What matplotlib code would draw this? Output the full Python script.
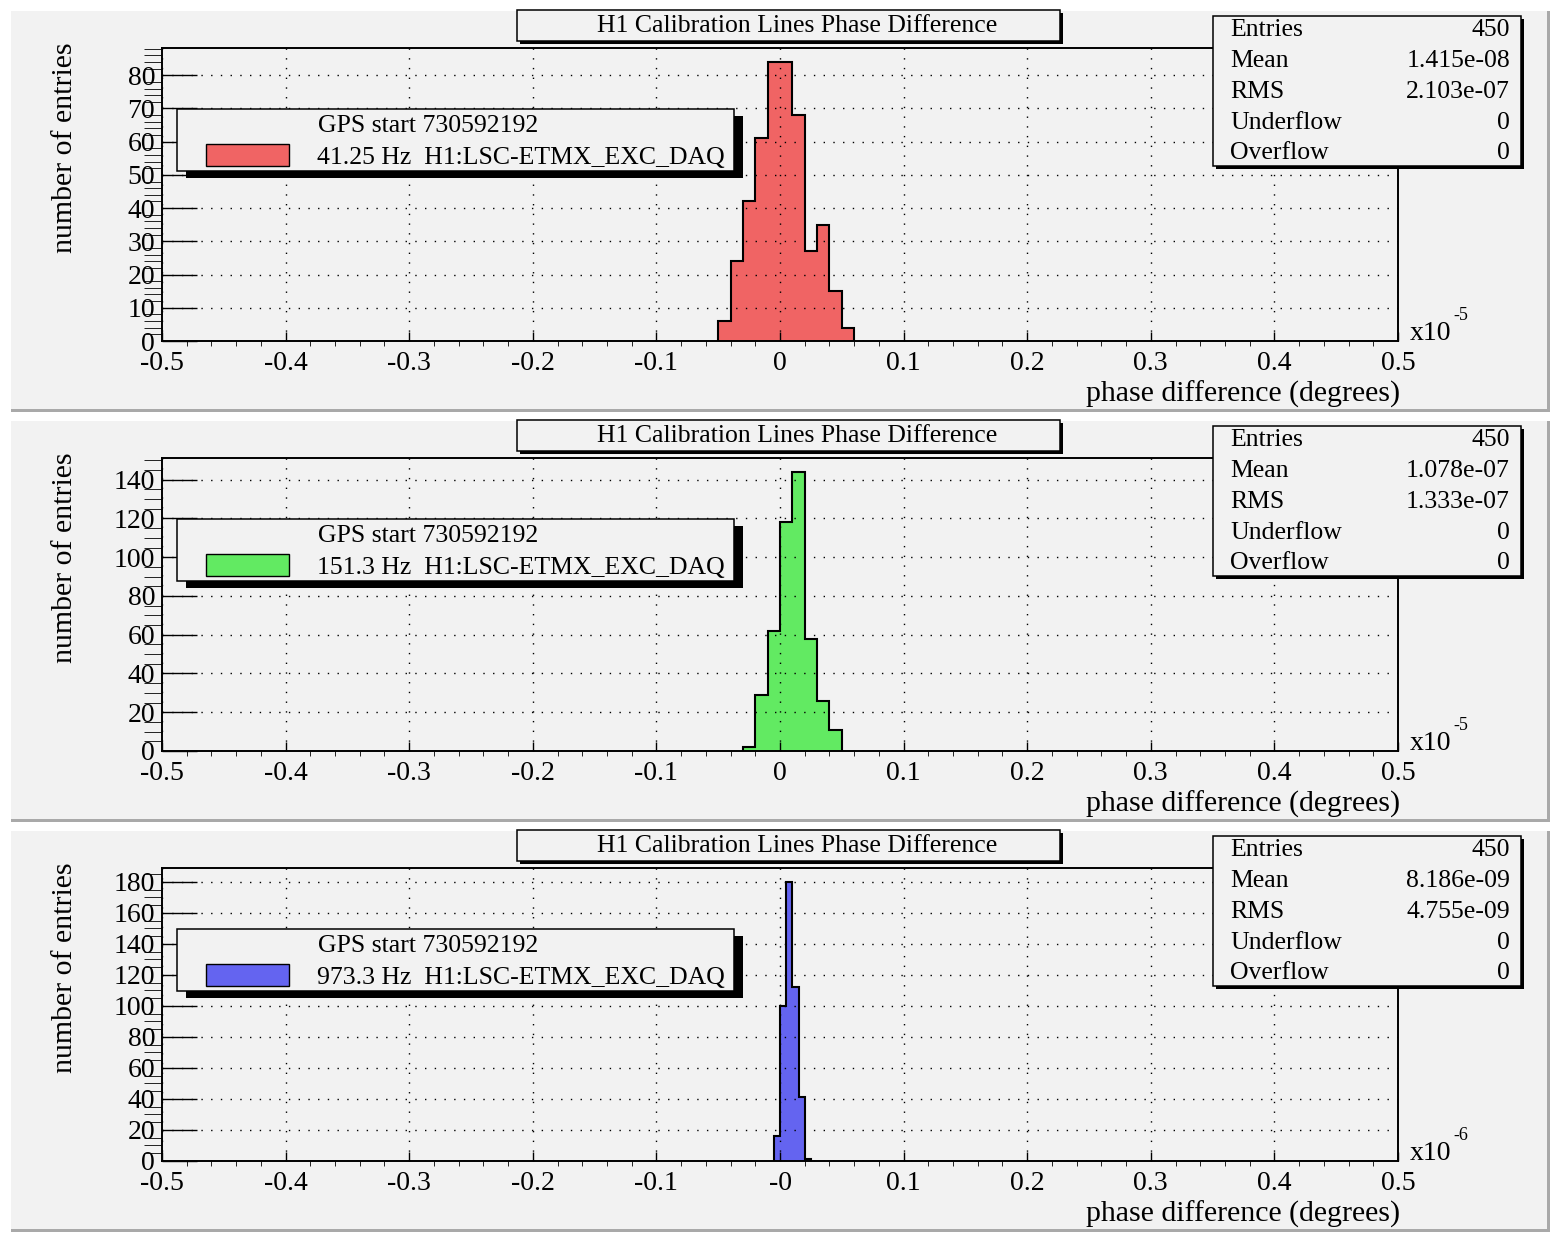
import matplotlib.pyplot as plt
from matplotlib.patches import Rectangle
from matplotlib.ticker import MultipleLocator, FixedLocator, FixedFormatter

plt.rcParams['font.family'] = ['Liberation Serif', 'DejaVu Serif']
plt.rcParams['font.size'] = 18.5

# histogram contents (x in units of the exponent shown at the axis end)
title = 'H1 Calibration Lines Phase Difference'
gps_label = 'GPS start 730592192'
channels = ['41.25 Hz  H1:LSC-ETMX_EXC_DAQ',
            '151.3 Hz  H1:LSC-ETMX_EXC_DAQ',
            '973.3 Hz  H1:LSC-ETMX_EXC_DAQ']
fill_colors = ['#f06464', '#62ea62', '#6464f0']

red_edges = [-0.05, -0.04, -0.03, -0.02, -0.01, 0.0, 0.01, 0.02, 0.03, 0.04, 0.05, 0.06]
red_counts = [6, 24, 42, 61, 84, 84, 68, 27, 35, 15, 4]
green_edges = [-0.03, -0.02, -0.01, 0.0, 0.01, 0.02, 0.03, 0.04, 0.05]
green_counts = [2, 29, 62, 118, 144, 58, 26, 11]
blue_edges = [-0.005, 0.0, 0.005, 0.01, 0.015, 0.02, 0.025]
blue_counts = [16, 100, 180, 112, 41, 1]

x_exponents = ['-5', '-5', '-6']
y_major = [10, 20, 20]
y_minor = [2, 5, 5]

stat_names = ['Entries', 'Mean', 'RMS', 'Underflow', 'Overflow']
red_stats = ['450', '1.415e-08', '2.103e-07', '0', '0']
green_stats = ['450', '1.078e-07', '1.333e-07', '0', '0']
blue_stats = ['450', '8.186e-09', '4.755e-09', '0', '0']

x_ticks = [-0.5, -0.4, -0.3, -0.2, -0.1, 0.0, 0.1, 0.2, 0.3, 0.4, 0.5]
x_labels = ['-0.5', '-0.4', '-0.3', '-0.2', '-0.1', '0', '0.1', '0.2', '0.3', '0.4', '0.5']
x_labels_neg0 = ['-0.5', '-0.4', '-0.3', '-0.2', '-0.1', '-0', '0.1', '0.2', '0.3', '0.4', '0.5']

panels = [
    (red_edges, red_counts, red_stats, x_labels),
    (green_edges, green_counts, green_stats, x_labels),
    (blue_edges, blue_counts, blue_stats, x_labels_neg0),
]

W, H = 1550, 1233
pad_color = '#f2f2f2'
fig = plt.figure(figsize=(W / 100, H / 100), dpi=100)
fig.patch.set_facecolor('white')


def px_axes(x0, y0, x1, y1, z):
    return fig.add_axes([x0 / W, 1 - y1 / H, (x1 - x0) / W, (y1 - y0) / H], zorder=z)


def pixel_layer(z):
    a = fig.add_axes([0, 0, 1, 1], zorder=z)
    a.set_xlim(0, W)
    a.set_ylim(H, 0)
    a.axis('off')
    a.patch.set_alpha(0)
    return a


back = pixel_layer(0)
front = pixel_layer(5)


def shadow_box(layer, x0, y0, x1, y1, off):
    layer.add_patch(Rectangle((x0 + off[0], y0 + off[1]), x1 - x0, y1 - y0,
                              facecolor='black', edgecolor='none'))
    layer.add_patch(Rectangle((x0, y0), x1 - x0, y1 - y0,
                              facecolor=pad_color, edgecolor='black', linewidth=1.1))


for i, (edges, counts, stats, xlabels) in enumerate(panels):
    oy = 410 * i

    # pad background with its bevel shadow
    back.add_patch(Rectangle((11, 11 + oy), 1539, 401, facecolor='#a9a9a9', edgecolor='none'))
    back.add_patch(Rectangle((11, 11 + oy), 1536, 398, facecolor=pad_color, edgecolor='none'))

    ax = px_axes(162, 48 + oy, 1398, 341 + oy, 1)
    ax.patch.set_alpha(0)
    ax.stairs(counts, edges, fill=True, facecolor=fill_colors[i], edgecolor='none')
    ax.stairs(counts, edges, baseline=0, color='black', linewidth=1.5)
    ax.set_xlim(-0.5, 0.5)
    ax.set_ylim(0, max(counts) * 1.05)

    ax.xaxis.set_major_locator(FixedLocator(x_ticks))
    ax.xaxis.set_major_formatter(FixedFormatter(xlabels))
    ax.xaxis.set_minor_locator(MultipleLocator(0.02))
    ax.yaxis.set_major_locator(MultipleLocator(y_major[i]))
    ax.yaxis.set_minor_locator(MultipleLocator(y_minor[i]))

    ax.tick_params(direction='in', width=1.0, colors='black', labelsize=20)
    ax.tick_params(axis='x', which='major', length=6.5, pad=7)
    ax.tick_params(axis='x', which='minor', length=3.6)
    ax.tick_params(axis='y', which='major', length=25, pad=5)
    ax.tick_params(axis='y', which='minor', length=13)
    ax.set_axisbelow(False)
    ax.grid(True, which='major', color='black', linestyle=(0, (1, 6)), linewidth=1.0)
    for s in ax.spines.values():
        s.set_linewidth(1.4)

    # title box
    shadow_box(front, 517, 10 + oy, 1060, 41 + oy, (3, 3))
    front.text(797, 32 + oy, title, ha='center', va='baseline')

    # statistics box
    shadow_box(front, 1213, 16 + oy, 1521, 166 + oy, (3, 3))
    for k, (name, val) in enumerate(zip(stat_names, stats)):
        yb = 36.5 + 30.7 * k + oy
        front.text(1230, yb, name, ha='left', va='baseline')
        front.text(1510, yb, val, ha='right', va='baseline')

    # legend box
    shadow_box(front, 177, 109 + oy, 734, 171 + oy, (9, 7))
    front.add_patch(Rectangle((206, 144 + oy), 83, 22, facecolor=fill_colors[i],
                              edgecolor='black', linewidth=1.0))
    front.text(318, 132.5 + oy, gps_label, ha='left', va='baseline')
    front.text(317, 164 + oy, channels[i], ha='left', va='baseline')

    # axis titles
    front.text(65, 42 + oy, 'number of entries', rotation=90, ha='center', va='top',
               fontsize=21.5)
    front.text(1400, 402 + oy, 'phase difference (degrees)', ha='right', va='baseline',
               fontsize=21.5)
    mult = front.text(1410, 340 + oy, 'x10', ha='left', va='baseline', fontsize=20)
    front.annotate(x_exponents[i], xy=(1, 1), xycoords=mult, xytext=(1, -2),
                   textcoords='offset points', ha='left', va='bottom', fontsize=13)

fig.savefig('out.png', dpi=100)
